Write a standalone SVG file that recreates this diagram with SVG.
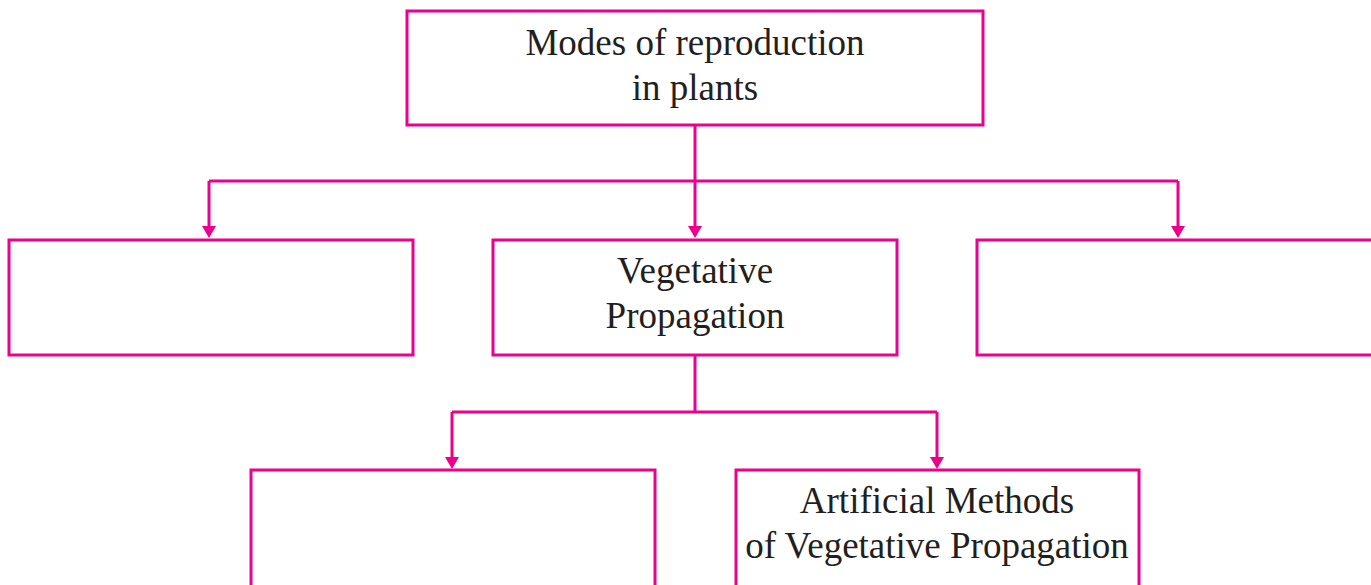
<svg xmlns="http://www.w3.org/2000/svg" width="1371" height="585" viewBox="0 0 1371 585">
<style>
.box{fill:#fff;stroke:#ec008c;stroke-width:3}
.con{fill:none;stroke:#ec008c;stroke-width:3}
.arr{marker-end:url(#ah)}
.t{font-family:"Liberation Serif","Times New Roman",serif;font-size:37px;fill:#231f20;text-anchor:middle}
</style>
<defs>
<marker id="ah" viewBox="0 -7 12 14" refX="0" refY="0" markerWidth="12" markerHeight="14" markerUnits="userSpaceOnUse" orient="auto">
<path d="M0,-7 L12,0 L0,7 Z" fill="#ec008c"/>
</marker>
</defs>
<rect width="1371" height="585" fill="#fff"/>
<g id="connectors">
<path class="con" d="M695,125 V181 M209,181 H1178"/>
<path class="con arr" d="M695,181 V226"/>
<path class="con arr" d="M209,181 V226"/>
<path class="con arr" d="M1178,181 V226"/>
<path class="con" d="M695,355 V412 M452,412 H937"/>
<path class="con arr" d="M452,412 V457"/>
<path class="con arr" d="M937,412 V457"/>
</g>
<g id="root">
<rect class="box" x="407" y="11" width="576" height="114"/>
<text class="t" x="695" y="55">Modes of reproduction</text>
<text class="t" x="695" y="100">in plants</text>
</g>
<g id="left">
<rect class="box" x="9" y="240" width="404" height="115"/>
</g>
<g id="vegetative">
<rect class="box" x="493" y="240" width="404" height="115"/>
<text class="t" x="695" y="283">Vegetative</text>
<text class="t" x="695" y="328">Propagation</text>
</g>
<g id="right">
<rect class="box" x="977" y="240" width="404" height="115"/>
</g>
<g id="natural">
<rect class="box" x="251" y="470" width="404" height="130"/>
</g>
<g id="artificial">
<rect class="box" x="736" y="470" width="403" height="130"/>
<text class="t" x="937" y="513">Artificial Methods</text>
<text class="t" x="937" y="558">of Vegetative Propagation</text>
</g>
</svg>
